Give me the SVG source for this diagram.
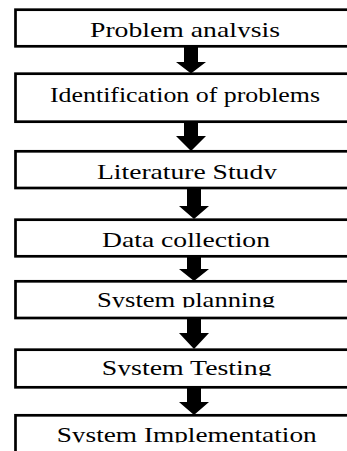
<svg xmlns="http://www.w3.org/2000/svg" width="347" height="451" viewBox="0 0 347 451">
  <style>
    .box { fill: #ffffff; stroke: #000000; stroke-width: 2.7; }
    .label { font-family: 'Liberation Serif', 'Times New Roman', serif; font-size: 21px; fill: #000000; text-anchor: middle; }
    .arrow { fill: #000000; stroke: none; }
  </style>
  <defs>
    <!-- descenders are cut off at the text line in most boxes -->
    <clipPath id="clip1"><rect x="0" y="0" width="347" height="37.5"/></clipPath>
    <clipPath id="clip3"><rect x="0" y="150" width="347" height="29"/></clipPath>
    <clipPath id="clip5"><rect x="0" y="280" width="347" height="27.5"/></clipPath>
    <clipPath id="clip6"><rect x="0" y="350" width="347" height="25.8"/></clipPath>
    <clipPath id="clip7"><rect x="0" y="416" width="347" height="26.5"/></clipPath>
  </defs>
  <rect width="347" height="451" fill="#ffffff"/>

  <g id="connectors">
    <polygon class="arrow" points="184,47 198,47 198,62 206,62 191,73.5 176,62 184,62"/>
    <polygon class="arrow" points="184,122 198,122 198,136 206,136 191,151 176,136 184,136"/>
    <polygon class="arrow" points="187,189 201,189 201,206 209,206 194,219 179,206 187,206"/>
    <polygon class="arrow" points="187,257 201,257 201,269 209,269 194,281 179,269 187,269"/>
    <polygon class="arrow" points="187,318 201,318 201,333 209,333 194,349 179,333 187,333"/>
    <polygon class="arrow" points="187,388 201,388 201,402 209,402 194,415 179,402 187,402"/>
  </g>

  <g id="problem-analysis">
    <rect class="box" x="15.5" y="9.7" width="345" height="36.6"/>
    <text class="label" x="185" y="37" textLength="190" lengthAdjust="spacingAndGlyphs" clip-path="url(#clip1)">Problem analysis</text>
  </g>

  <g id="identification-of-problems">
    <rect class="box" x="15.5" y="73.7" width="345" height="48"/>
    <text class="label" x="185" y="101.7" textLength="270" lengthAdjust="spacingAndGlyphs">Identification of problems</text>
  </g>

  <g id="literature-study">
    <rect class="box" x="15.5" y="151.3" width="345" height="36.7"/>
    <text class="label" x="187" y="178.5" textLength="180" lengthAdjust="spacingAndGlyphs" clip-path="url(#clip3)">Literature Study</text>
  </g>

  <g id="data-collection">
    <rect class="box" x="15.5" y="219.7" width="345" height="36.6"/>
    <text class="label" x="186" y="246.7" textLength="168" lengthAdjust="spacingAndGlyphs">Data collection</text>
  </g>

  <g id="system-planning">
    <rect class="box" x="15.5" y="281.3" width="345" height="36.7"/>
    <text class="label" x="186" y="306.7" textLength="178" lengthAdjust="spacingAndGlyphs" clip-path="url(#clip5)">System planning</text>
  </g>

  <g id="system-testing">
    <rect class="box" x="15.5" y="349.7" width="345" height="37.6"/>
    <text class="label" x="186.7" y="375" textLength="170" lengthAdjust="spacingAndGlyphs" clip-path="url(#clip6)">System Testing</text>
  </g>

  <g id="system-implementation">
    <rect class="box" x="15.5" y="415.3" width="345" height="60"/>
    <text class="label" x="186.7" y="441.7" textLength="260" lengthAdjust="spacingAndGlyphs" clip-path="url(#clip7)">System Implementation</text>
  </g>
</svg>
